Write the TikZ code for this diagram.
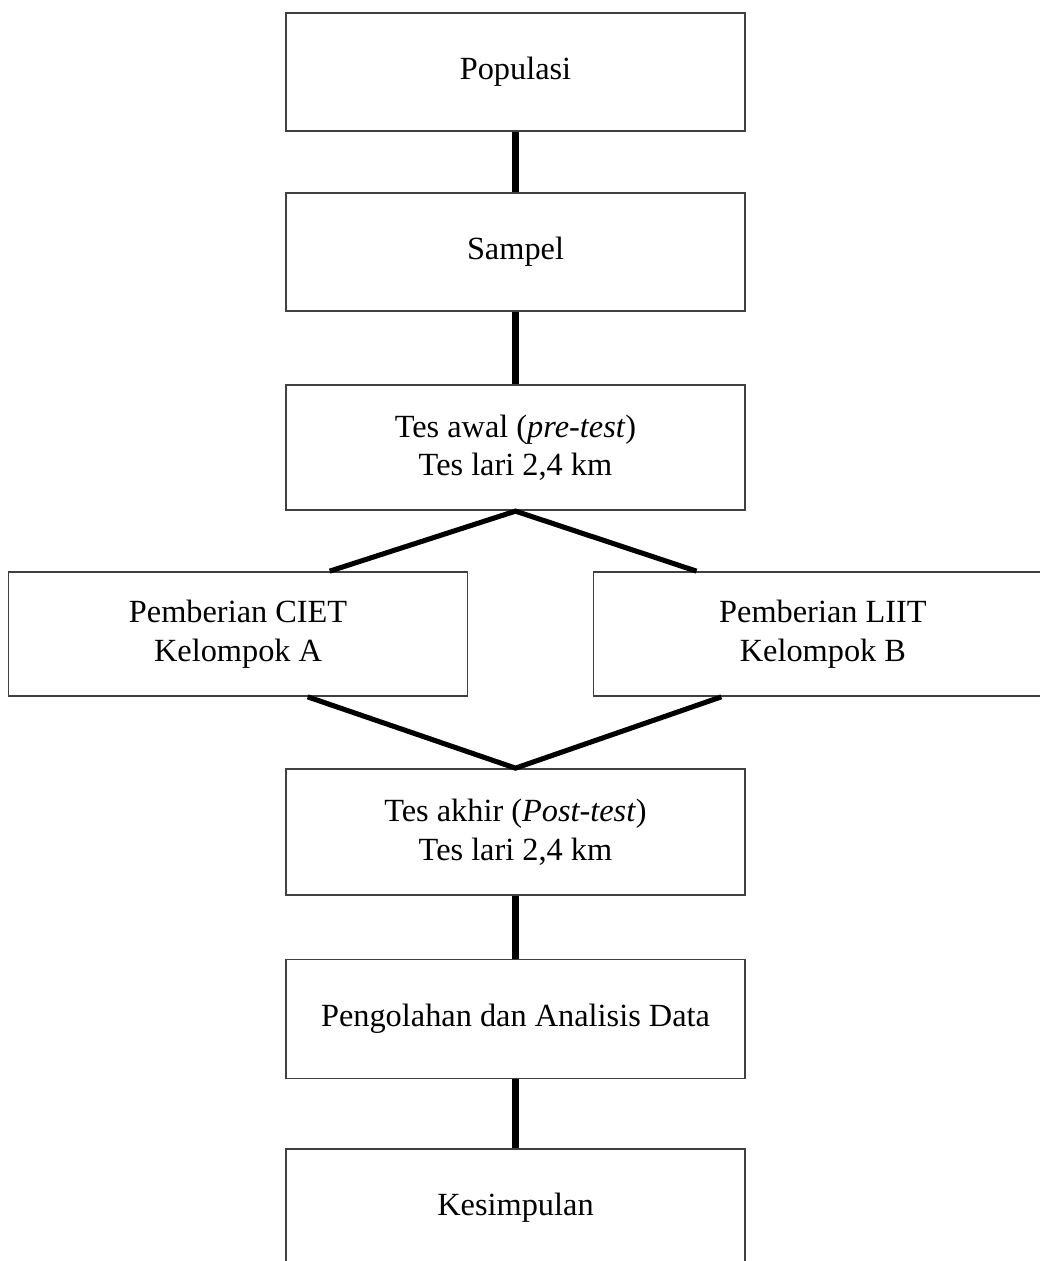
\documentclass[tikz,border=0pt]{standalone}
\usepackage{fontspec}
\setmainfont{Liberation Serif}
\usepackage{tikz}
\usetikzlibrary{positioning}

\begin{document}
\begin{tikzpicture}[x=0.025cm,y=-0.025cm,
		kotak/.style={draw=black!75, line width=1.2pt, minimum width=11.475cm, align=center, font=\fontsize{23}{27.5}\selectfont},
		garis/.style={line width=5.2pt},
		serong/.style={line width=3.6pt, line join=miter}]
	\useasboundingbox (0,0) rectangle (1039,1261);
	\node[kotak, minimum height=2.95cm] (populasi) at (515.5,72) {Populasi};
	\node[kotak, minimum height=2.95cm, below=1.5cm of populasi] (sampel) {Sampel};
	\node[kotak, minimum height=3.125cm, below=1.82cm of sampel] (awal) {Tes awal (\textit{pre-test})\\Tes lari 2,4 km};
	\node[kotak, minimum height=3.1cm, below left=1.5cm and 1.175cm of awal.south] (ciet) {Pemberian CIET\\Kelompok A};
	\node[kotak, minimum height=3.1cm, below right=1.5cm and 1.925cm of awal.south] (liit) {Pemberian LIIT\\Kelompok B};
	\node[kotak, minimum height=3.15cm] (akhir) at (515.5,832) {Tes akhir (\textit{Post-test})\\Tes lari 2,4 km};
	\node[kotak, minimum height=2.975cm, below=1.57cm of akhir] (olah) {Pengolahan dan Analisis Data};
	\node[kotak, minimum height=2.95cm, below=1.72cm of olah] (simpul) {Kesimpulan};

	\draw[garis] (populasi) -- (sampel);
	\draw[garis] (sampel) -- (awal);
	\draw[serong] ([xshift=2.29cm]ciet.north) -- (awal.south) -- ([xshift=-3.16cm]liit.north);
	\draw[serong] ([xshift=1.74cm]ciet.south) -- (akhir.north) -- ([xshift=-2.54cm]liit.south);
	\draw[garis] (akhir) -- (olah);
	\draw[garis] (olah) -- (simpul);
\end{tikzpicture}
\end{document}
